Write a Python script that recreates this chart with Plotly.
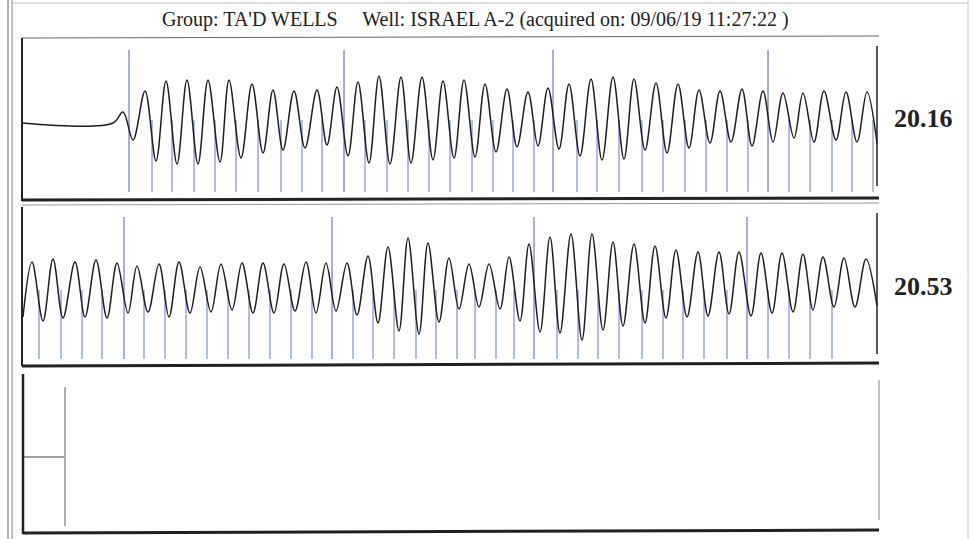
import plotly.graph_objects as go

W, H = 973, 539

# ---------------- data ----------------
TITLE = "Group: TA'D WELLS     Well: ISRAEL A-2 (acquired on: 09/06/19 11:27:22 )"
shot_labels = ["20.16", "20.53"]

# Shot 1: turning points of the acoustic trace (time sample, deflection)
shot1_t = [22, 113, 123, 133, 145, 156, 166, 177, 187, 198, 208, 220, 229, 241, 252, 263,
           273, 283, 294, 305, 317, 327, 337, 348, 358, 369, 379, 390, 401, 411, 422, 433,
           443, 454, 464, 475, 485, 496, 507, 517, 528, 538, 548, 559, 569, 580, 591, 602,
           613, 624, 634, 645, 656, 667, 678, 689, 699, 710, 720, 731, 742, 752, 763, 773,
           783, 794, 803, 814, 824, 836, 846, 857, 867, 877]
shot1_v = [0, 0, 11, -17, 32, -38, 42, -41, 43, -41, 43, -39, 43, -35, 39, -30,
           33, -27, 32, -25, 33, -22, 36, -33, 41, -40, 47, -41, 46, -40, 46, -37,
           42, -35, 43, -34, 39, -29, 34, -24, 31, -23, 35, -26, 39, -33, 44, -37,
           46, -36, 44, -27, 40, -30, 39, -25, 33, -20, 32, -19, 34, -23, 32, -19,
           30, -15, 30, -19, 32, -17, 31, -19, 31, -20]

# Shot 2
shot2_t = [23, 32, 43, 53, 63, 75, 85, 96, 107, 117, 128, 137, 148, 159, 169, 179,
           190, 200, 211, 221, 232, 242, 253, 263, 274, 284, 295, 306, 316, 326, 336, 347,
           357, 368, 378, 388, 399, 408, 419, 428, 439, 449, 459, 469, 479, 489, 500, 509,
           520, 529, 540, 550, 560, 571, 582, 592, 603, 613, 623, 634, 645, 655, 666, 676,
           687, 698, 708, 719, 729, 739, 751, 761, 772, 782, 793, 803, 813, 823, 834, 844,
           855, 866, 877]
shot2_v = [-29, 26, -33, 29, -30, 26, -29, 28, -30, 25, -25, 22, -24, 24, -29, 26,
           -25, 21, -24, 24, -22, 25, -25, 25, -25, 24, -23, 26, -25, 25, -23, 25,
           -27, 32, -35, 41, -43, 50, -46, 45, -34, 30, -21, 24, -19, 24, -21, 31,
           -33, 44, -44, 51, -45, 54, -52, 54, -42, 46, -38, 44, -35, 42, -30, 38,
           -29, 36, -28, 36, -26, 36, -28, 35, -25, 35, -24, 34, -22, 31, -19, 30,
           -19, 29, -18]

# collar/joint markers (time samples)
shot1_marks_short = [152, 172, 194, 215, 236, 258, 281, 302, 322, 365, 387, 408, 429, 450,
                     472, 493, 513, 534, 577, 597, 619, 642, 663, 685, 706, 727, 748, 789,
                     810, 832, 852, 873]
shot1_marks_tall = [129, 344, 553, 768]
shot2_marks_short = [39, 61, 82, 102, 144, 165, 186, 207, 228, 249, 270, 291, 312, 353,
                     373, 394, 416, 436, 457, 475, 496, 514, 557, 578, 598, 619, 642, 663,
                     683, 704, 727, 768, 789, 810, 832]
shot2_marks_tall = [124, 332, 534, 747]

# Shot 3 (empty record): short baseline, then a single marker
shot3_t = [23, 64]
shot3_v = [0, 0]
shot3_marks = [65]

# marker extents (deflection units)
short_lo1, short_hi1, tall_hi1 = -69, 3, 73
short_lo2, short_hi2, tall_hi2 = -71, -2, 71
mark3_lo, mark3_hi = -69, 70

# ---------------- helpers ----------------
def px(x):
    return x / W

def py(y):
    return 1 - y / H

def seg(xs, lo, hi):
    X, Y = [], []
    for x in xs:
        X += [x, x, None]
        Y += [lo, hi, None]
    return X, Y

fig = go.Figure()

WAVE = dict(color="#1e1e1e", width=1.5, shape="spline", smoothing=1.0)
BLUE_S = dict(color="#6478d2", width=1)
BLUE_T = dict(color="#4a5fc8", width=1)

# panel 1
X, Y = seg(shot1_marks_short, short_lo1, short_hi1)
fig.add_trace(go.Scatter(x=X, y=Y, mode="lines", line=BLUE_S, xaxis="x", yaxis="y", hoverinfo="skip"))
X, Y = seg(shot1_marks_tall, short_lo1, tall_hi1)
fig.add_trace(go.Scatter(x=X, y=Y, mode="lines", line=BLUE_T, xaxis="x", yaxis="y", hoverinfo="skip"))
fig.add_trace(go.Scatter(x=shot1_t, y=shot1_v, mode="lines", line=WAVE, xaxis="x", yaxis="y"))

# panel 2
X, Y = seg(shot2_marks_short, short_lo2, short_hi2)
fig.add_trace(go.Scatter(x=X, y=Y, mode="lines", line=BLUE_S, xaxis="x2", yaxis="y2", hoverinfo="skip"))
X, Y = seg(shot2_marks_tall, short_lo2, tall_hi2)
fig.add_trace(go.Scatter(x=X, y=Y, mode="lines", line=BLUE_T, xaxis="x2", yaxis="y2", hoverinfo="skip"))
fig.add_trace(go.Scatter(x=shot2_t, y=shot2_v, mode="lines", line=WAVE, xaxis="x2", yaxis="y2"))

# panel 3
X, Y = seg(shot3_marks, mark3_lo, mark3_hi)
fig.add_trace(go.Scatter(x=X, y=Y, mode="lines", line=dict(color="#777777", width=1.2),
                         xaxis="x3", yaxis="y3", hoverinfo="skip"))
fig.add_trace(go.Scatter(x=shot3_t, y=shot3_v, mode="lines", line=dict(color="#444444", width=1.2),
                         xaxis="x3", yaxis="y3"))

xdom = [px(22), px(878)]
ax_hidden = dict(visible=False, showgrid=False, zeroline=False, fixedrange=True)
layout = dict(
    width=W, height=H, autosize=False, margin=dict(l=0, r=0, t=0, b=0),
    paper_bgcolor="white", plot_bgcolor="rgba(0,0,0,0)", showlegend=False,
    xaxis=dict(domain=xdom, range=[22, 878], anchor="y", **ax_hidden),
    xaxis2=dict(domain=xdom, range=[22, 878], anchor="y2", **ax_hidden),
    xaxis3=dict(domain=xdom, range=[22, 878], anchor="y3", **ax_hidden),
    yaxis=dict(domain=[py(199), py(40)], range=[-76, 83], anchor="x", **ax_hidden),
    yaxis2=dict(domain=[py(365), py(206)], range=[-77, 82], anchor="x2", **ax_hidden),
    yaxis3=dict(domain=[py(532), py(372)], range=[-75, 85], anchor="x3", **ax_hidden),
)
fig.update_layout(**layout)

shapes = []
def line(x0, y0, x1, y1, color="#111", width=1):
    shapes.append(dict(type="line", xref="paper", yref="paper",
                       x0=px(x0), y0=py(y0), x1=px(x1), y1=py(y1),
                       line=dict(color=color, width=width)))

# outer page frame
line(8, 0, 8, 539, "#666", 1)
line(12, 0, 12, 539, "#888", 1)
line(12, 3, 968, 3, "#bbb", 1)
line(968, 0, 968, 539, "#ccc", 1)
# panel 1
line(22, 38, 879, 36, "#666", 1)
line(22, 38, 22, 201, "#222", 2)
line(22, 200, 879, 198, "#222", 3)
line(22, 205, 879, 203, "#999", 1)
line(877, 46, 877, 186, "#222", 1.5)
# panel 2
line(22, 207, 22, 366, "#222", 2)
line(22, 366, 879, 363, "#222", 3)
line(877, 213, 877, 354, "#222", 1.5)
# panel 3
line(23, 374, 23, 534, "#222", 2.5)
line(23, 533, 879, 530, "#222", 3)
line(879, 380, 879, 520, "#888", 1)

fig.update_layout(shapes=shapes)

def note(x, y, text, size):
    fig.add_annotation(x=px(x), y=py(y), xref="paper", yref="paper", text=text, showarrow=False,
                       xanchor="center", yanchor="middle",
                       font=dict(family="Liberation Serif", size=size, color="#222"))

note(475, 20, TITLE, 20)
note(923, 119, "<b>%s</b>" % shot_labels[0], 26)
note(923, 286, "<b>%s</b>" % shot_labels[1], 26)

fig.write_html("out.html", config={"displayModeBar": False},
               post_script="document.body.style.margin='0';document.body.style.overflow='hidden';")
